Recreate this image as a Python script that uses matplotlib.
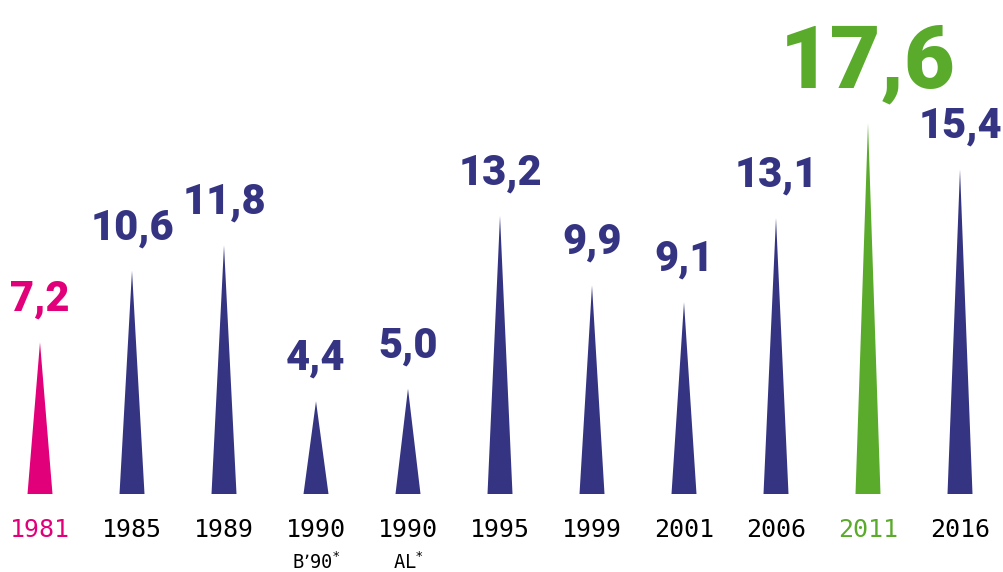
import matplotlib
matplotlib.use("Agg")
import matplotlib.pyplot as plt
from matplotlib.patches import Polygon

# data
years = ["1981", "1985", "1989", "1990", "1990", "1995", "1999", "2001", "2006", "2011", "2016"]
sublabels = ["", "", "", "B\u201990", "AL", "", "", "", "", "", ""]
values = [7.2, 10.6, 11.8, 4.4, 5.0, 13.2, 9.9, 9.1, 13.1, 17.6, 15.4]

PINK = "#E2007A"
NAVY = "#343482"
GREEN = "#5AAB2B"
colors = [PINK] + [NAVY] * 8 + [GREEN, NAVY]
tick_colors = [PINK] + ["black"] * 8 + [GREEN, "black"]

fig = plt.figure(figsize=(10.04, 5.72), dpi=100)
ax = fig.add_axes([0, 0, 1, 1])
ax.set_xlim(-40 / 92, 10 + 44 / 92)
ax.set_ylim(-78 / 21.07, (572 - 78) / 21.07)
ax.axis("off")

half = 12.5 / 92
for i, (v, c) in enumerate(zip(values, colors)):
    ax.add_patch(Polygon([(i - half, 0), (i + half, 0), (i, v)], closed=True,
                         facecolor=c, edgecolor="none"))
    big = (i == 9)
    ax.text(i, v + (1.7 if big else 1.5), f"{v:.1f}".replace(".", ","),
            ha="center", va="baseline", color=c,
            fontsize=63 if big else 30, fontweight=900,
            family=["Roboto", "DejaVu Sans"])
    ax.text(i, -1.71, years[i], ha="center", va="center", color=tick_colors[i],
            fontsize=18, family="DejaVu Sans Mono")
    if sublabels[i]:
        ax.text(i, -3.23, sublabels[i] + "$^{*}$", ha="center", va="center",
                color="black", fontsize=13.5, family="DejaVu Sans Mono")

fig.savefig("out.png", dpi=100)
